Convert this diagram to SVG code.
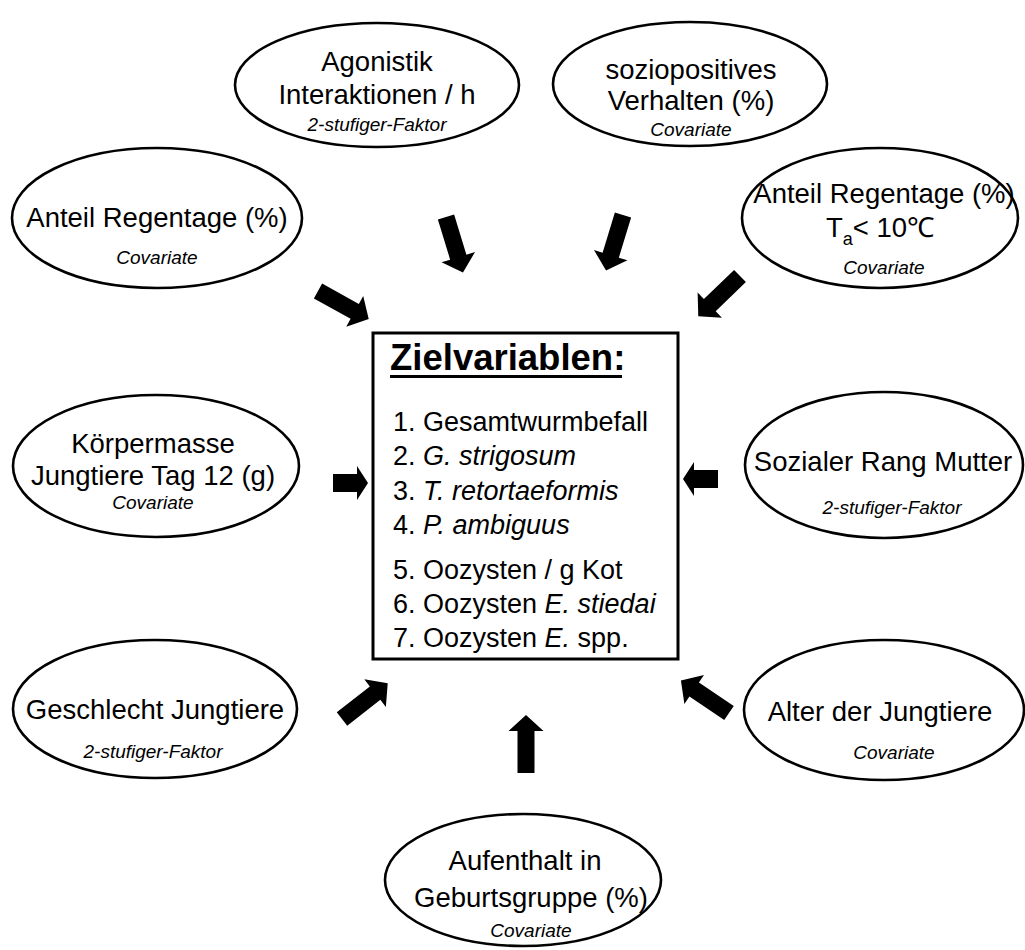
<svg xmlns="http://www.w3.org/2000/svg" xmlns:xlink="http://www.w3.org/1999/xlink" width="1025" height="950" viewBox="0 0 1025 950">
<style>
.ell{fill:#fff;stroke:#000;stroke-width:2.6}
.box{fill:#fff;stroke:#000;stroke-width:3}
text{font-family:"Liberation Sans",Arial,sans-serif;fill:#000}
.m{font-size:27.5px;text-anchor:middle}
.s{font-size:19px;font-style:italic;text-anchor:middle}
.t{font-size:36.5px;font-weight:bold}
.l{font-size:27px}
.i{font-style:italic}
.arr{fill:#000}
</style>
<defs>
<path id="arrow" d="M0,-8.5 L42,-8.5 L42,-17.5 L58,0 L42,17.5 L42,8.5 L0,8.5 Z"/>
<path id="arrowS" d="M0,-9 L24,-9 L24,-17 L35,0 L24,17 L24,9 L0,9 Z"/>
</defs>
<rect width="1025" height="950" fill="#fff"/>

<g id="connectors" class="arr">
<use xlink:href="#arrow" transform="translate(318,291) rotate(29)"/>
<use xlink:href="#arrow" transform="translate(446,217) rotate(73)"/>
<use xlink:href="#arrow" transform="translate(623,215) rotate(107)"/>
<use xlink:href="#arrow" transform="translate(740,276) rotate(136)"/>
<use xlink:href="#arrowS" transform="translate(333,483)"/>
<use xlink:href="#arrowS" transform="translate(718,479) rotate(180)"/>
<use xlink:href="#arrow" transform="translate(342,719) rotate(-38)"/>
<use xlink:href="#arrow" transform="translate(729,713) rotate(214)"/>
<use xlink:href="#arrow" transform="translate(526,773) rotate(-90)"/>
</g>

<g id="agonistik">
<ellipse class="ell" cx="377" cy="85" rx="142" ry="62"/>
<text class="m" x="377" y="71">Agonistik</text>
<text class="m" x="377" y="104">Interaktionen / h</text>
<text class="s" x="377" y="131">2-stufiger-Faktor</text>
</g>

<g id="soziopositiv">
<ellipse class="ell" cx="690" cy="84" rx="137" ry="62"/>
<text class="m" x="691" y="79">soziopositives</text>
<text class="m" x="691" y="110">Verhalten (%)</text>
<text class="s" x="691" y="136">Covariate</text>
</g>

<g id="regentage">
<ellipse class="ell" cx="157" cy="218" rx="145" ry="70"/>
<text class="m" x="157" y="227">Anteil Regentage (%)</text>
<text class="s" x="157" y="264">Covariate</text>
</g>

<g id="regentage10">
<ellipse class="ell" cx="880" cy="218" rx="138" ry="70"/>
<text class="m" x="884" y="203">Anteil Regentage (%)</text>
<text class="m" x="880" y="237">T<tspan font-size="18" dy="8">a</tspan><tspan dy="-8">&lt; 10℃</tspan></text>
<text class="s" x="884" y="274">Covariate</text>
</g>

<g id="koerpermasse">
<ellipse class="ell" cx="156" cy="466" rx="143" ry="71"/>
<text class="m" x="153" y="453">Körpermasse</text>
<text class="m" x="153" y="485">Jungtiere Tag 12 (g)</text>
<text class="s" x="153" y="509">Covariate</text>
</g>

<g id="rang">
<ellipse class="ell" cx="884" cy="465" rx="139" ry="73"/>
<text class="m" x="883" y="471">Sozialer Rang Mutter</text>
<text class="s" x="892" y="514">2-stufiger-Faktor</text>
</g>

<g id="geschlecht">
<ellipse class="ell" cx="155" cy="709" rx="142" ry="69"/>
<text class="m" x="155" y="719">Geschlecht Jungtiere</text>
<text class="s" x="153" y="758">2-stufiger-Faktor</text>
</g>

<g id="alter">
<ellipse class="ell" cx="884" cy="710" rx="140" ry="70"/>
<text class="m" x="880" y="721">Alter der Jungtiere</text>
<text class="s" x="894" y="759">Covariate</text>
</g>

<g id="aufenthalt">
<ellipse class="ell" cx="523" cy="880" rx="138" ry="66"/>
<text class="m" x="525" y="870">Aufenthalt in</text>
<text class="m" x="531" y="907">Geburtsgruppe (%)</text>
<text class="s" x="531" y="937">Covariate</text>
</g>

<g id="zielvariablen">
<rect class="box" x="373" y="333" width="305" height="326"/>
<text class="t" x="390" y="370">Zielvariablen:</text>
<rect x="390" y="375" width="232" height="3" fill="#000"/>
<text class="l" x="393" y="431">1. Gesamtwurmbefall</text>
<text class="l" x="393" y="465">2. <tspan class="i">G. strigosum</tspan></text>
<text class="l" x="393" y="500">3. <tspan class="i">T. retortaeformis</tspan></text>
<text class="l" x="393" y="534">4. <tspan class="i">P. ambiguus</tspan></text>
<text class="l" x="393" y="579">5. Oozysten / g Kot</text>
<text class="l" x="393" y="613">6. Oozysten <tspan class="i">E. stiedai</tspan></text>
<text class="l" x="393" y="647">7. Oozysten <tspan class="i">E.</tspan> spp.</text>
</g>
</svg>
